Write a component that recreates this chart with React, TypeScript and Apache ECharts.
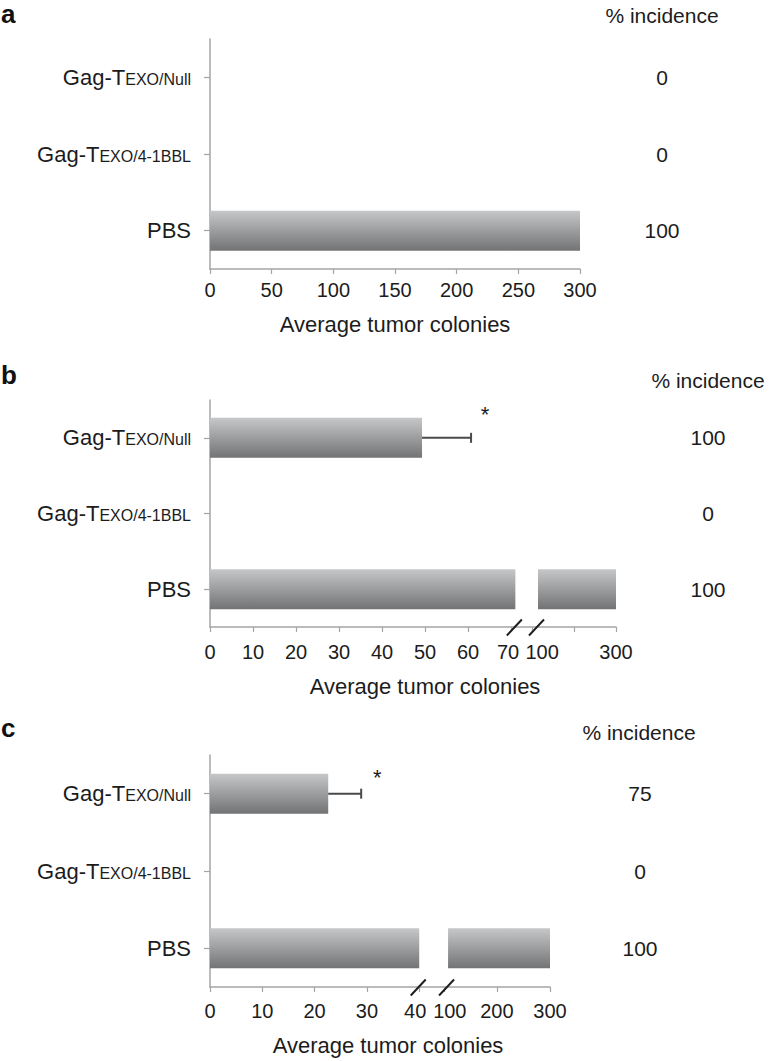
import React, { useEffect, useRef } from 'react';
import * as echarts from 'echarts';

// ---------- data ----------
const categories = ['Gag-TEXO/Null', 'Gag-TEXO/4-1BBL', 'PBS'];
const labelMain = ['Gag-T', 'Gag-T', 'PBS'];
const labelSub = ['EXO/Null', 'EXO/4-1BBL', ''];

// panel a
const coloniesA = [0, 0, 300];
const errorsA = [0, 0, 0];
const incidenceA = ['0', '0', '100'];
const tickValuesA = [0, 50, 100, 150, 200, 250, 300];
const tickLabelsA = [0, 50, 100, 150, 200, 250, 300];

// panel b
const coloniesB = [49.3, 0, 300];
const errorsB = [11.4, 0, 0];
const incidenceB = ['100', '0', '100'];
const tickValuesB = [0, 10, 20, 30, 40, 50, 60, 70, 100, 200, 300];
const tickLabelsB = [0, 10, 20, 30, 40, 50, 60, 70, 100, 300];
const breakB = [71, 114];

// panel c
const coloniesC = [22.6, 0, 300];
const errorsC = [6.3, 0, 0];
const incidenceC = ['75', '0', '100'];
const tickValuesC = [0, 10, 20, 30, 40, 100, 200, 300];
const tickLabelsC = [0, 10, 20, 30, 40, 100, 200, 300];
const breakC = [40, 108];

// ---------- styling / layout ----------
const FONT = '"Liberation Sans", Arial, Helvetica, sans-serif';
const TEXT = '#1c1c1c';
const AXIS = '#a5a5a5';

type ScaleCfg = { lowCut: number; upperMin: number; upperStart: number; upperPerUnit: number } | null;

const panels = [
  {
    letter: 'a', letterY: 1, headerX: 662, headerY: 15,
    grid: { left: 210, top: 39, width: 370, height: 230 },
    colonies: coloniesA, errors: errorsA, incidence: incidenceA,
    ticks: tickValuesA, labels: tickLabelsA, brk: null as number[] | null,
    scale: null as ScaleCfg, max: 300,
    labelMargin: 11, nameGap: 44, namePad: 0, incMargin: 82,
    starDx: 15, starDy: -24, lowLabel: -1, lowPad: 0, highPad: 0,
  },
  {
    letter: 'b', letterY: 362, headerX: 708, headerY: 380,
    grid: { left: 210, top: 400, width: 406, height: 227 },
    colonies: coloniesB, errors: errorsB, incidence: incidenceB,
    ticks: tickValuesB, labels: tickLabelsB, brk: breakB,
    scale: { lowCut: 71, upperMin: 100, upperStart: 74.9, upperPerUnit: 0.0975 } as ScaleCfg, max: 300,
    labelMargin: 15, nameGap: 48, namePad: 24, incMargin: 92,
    starDx: 14, starDy: -23, lowLabel: 70, lowPad: 6, highPad: 20,
  },
  {
    letter: 'c', letterY: 715, headerX: 639, headerY: 732,
    grid: { left: 210, top: 755, width: 340, height: 232 },
    colonies: coloniesC, errors: errorsC, incidence: incidenceC,
    ticks: tickValuesC, labels: tickLabelsC, brk: breakC,
    scale: { lowCut: 40, upperMin: 100, upperStart: 44.7, upperPerUnit: 0.1015 } as ScaleCfg, max: 300,
    labelMargin: 14, nameGap: 47, namePad: 16, incMargin: 90,
    starDx: 16, starDy: -16, lowLabel: 40, lowPad: 8, highPad: 12,
  },
];

function makeMap(s: ScaleCfg) {
  if (!s) return (v: number) => v;
  return (v: number) => (v <= s.lowCut ? v : s.upperStart + (v - s.upperMin) * s.upperPerUnit);
}

const barGradient = () =>
  new echarts.graphic.LinearGradient(0, 0, 0, 1, [
    { offset: 0, color: '#c6c7c9' },
    { offset: 1, color: '#727375' },
  ]);

function buildOption() {
  const grids: any[] = [];
  const xAxes: any[] = [];
  const yAxes: any[] = [];
  const series: any[] = [];
  const graphics: any[] = [];

  panels.forEach((p, i) => {
    const map = makeMap(p.scale);
    grids.push({ ...p.grid, containLabel: false, outerBoundsMode: 'none' });

    const labelPos = p.labels.map(map);
    const labelText = new Map<string, number>();
    p.labels.forEach((l, k) => labelText.set(labelPos[k].toFixed(4), l));

    xAxes.push({
      type: 'value',
      gridIndex: i,
      min: 0,
      max: map(p.max),
      splitLine: { show: false },
      axisLine: { show: true, lineStyle: { color: AXIS, width: 1.5 } },
      axisTick: { show: true, length: 5, lineStyle: { color: AXIS, width: 1.2 }, customValues: p.ticks.map(map) },
      axisLabel: {
        customValues: labelPos,
        margin: p.labelMargin,
        fontSize: 20,
        fontFamily: FONT,
        color: TEXT,
        formatter: (v: number) => {
          const l = labelText.get(v.toFixed(4));
          if (l === undefined) return '';
          if (p.scale && l === p.lowLabel) return `{lo|${l}}`;
          if (p.scale && l === p.scale.upperMin) return `{hi|${l}}`;
          return String(l);
        },
        rich: {
          lo: { fontSize: 20, fontFamily: FONT, color: TEXT, padding: [0, p.lowPad, 0, 0] },
          hi: { fontSize: 20, fontFamily: FONT, color: TEXT, padding: [0, 0, 0, p.highPad] },
        },
      },
      name: 'Average tumor colonies',
      nameLocation: 'middle',
      nameGap: p.nameGap,
      nameTextStyle: { fontSize: 22, fontFamily: FONT, color: TEXT, padding: [0, 0, 0, p.namePad] },
    });

    yAxes.push({
      type: 'category',
      gridIndex: i,
      data: categories,
      inverse: true,
      axisLine: { show: true, lineStyle: { color: AXIS, width: 1.5 } },
      axisTick: { show: true, alignWithLabel: true, length: 6, lineStyle: { color: AXIS, width: 1.2 } },
      axisLabel: {
        margin: 19,
        formatter: (_v: string, idx: number) =>
          labelSub[idx] ? `{m|${labelMain[idx]}}{s|${labelSub[idx]}}` : `{m|${labelMain[idx]}}`,
        rich: {
          m: { fontSize: 22, fontFamily: FONT, color: TEXT, verticalAlign: 'bottom' },
          s: { fontSize: 16, fontFamily: FONT, color: TEXT, verticalAlign: 'bottom', padding: [0, 0, 1, 0] },
        },
      },
      splitLine: { show: false },
    });
    yAxes.push({
      type: 'category',
      gridIndex: i,
      position: 'right',
      data: p.incidence,
      inverse: true,
      axisLine: { show: false },
      axisTick: { show: false },
      axisLabel: { margin: p.incMargin, align: 'center', fontSize: 21, fontFamily: FONT, color: TEXT },
      splitLine: { show: false },
    });

    const xIdx = i;
    const yIdx = 2 * i;
    const brk = p.brk;
    const stack = 'stack' + i;
    const seg1 = p.colonies.map((v) => (brk && v > brk[0] ? map(brk[0]) : map(v)));
    const gap = p.colonies.map((v) => (brk && v > brk[0] ? map(brk[1]) - map(brk[0]) : 0));
    const seg2 = p.colonies.map((v) => (brk && v > brk[0] ? map(v) - map(brk[1]) : 0));

    series.push({
      type: 'bar', xAxisIndex: xIdx, yAxisIndex: yIdx, stack, barWidth: 40,
      data: seg1, itemStyle: { color: barGradient() }, silent: true,
    });
    if (brk) {
      series.push({
        type: 'bar', xAxisIndex: xIdx, yAxisIndex: yIdx, stack, barWidth: 40,
        data: gap, itemStyle: { color: 'rgba(0,0,0,0)' }, silent: true,
      });
      series.push({
        type: 'bar', xAxisIndex: xIdx, yAxisIndex: yIdx, stack, barWidth: 40,
        data: seg2, itemStyle: { color: barGradient() }, silent: true,
      });
      // axis break marks
      series.push({
        type: 'custom', xAxisIndex: xIdx, yAxisIndex: yIdx, silent: true, z: 10,
        encode: { x: [0, 2], y: 1 },
        data: [[map(brk[0]), 0, map(brk[1])]],
        renderItem: (params: any, api: any) => {
          const cs = params.coordSys;
          const yb = cs.y + cs.height + 0.5;
          const xa = api.coord([api.value(0), 0])[0] - 1;
          const xb = api.coord([api.value(2), 0])[0] - 1.5;
          const mk = (xc: number) => ({
            type: 'line',
            shape: { x1: xc - 7.5, y1: yb + 8, x2: xc + 7.5, y2: yb - 8 },
            style: { stroke: '#1e1e1e', lineWidth: 2 },
          });
          return { type: 'group', children: [mk(xa), mk(xb)] };
        },
      });
    }

    const errData = p.colonies
      .map((v, k) => [map(v), k, map(v + p.errors[k])])
      .filter((_d, k) => p.errors[k] > 0);
    if (errData.length) {
      series.push({
        type: 'custom', xAxisIndex: xIdx, yAxisIndex: yIdx, silent: true, z: 10,
        encode: { x: [0, 2], y: 1 },
        data: errData,
        renderItem: (_params: any, api: any) => {
          const p0 = api.coord([api.value(0), api.value(1)]);
          const p1 = api.coord([api.value(2), api.value(1)]);
          return {
            type: 'group',
            children: [
              { type: 'line', shape: { x1: p0[0], y1: p0[1], x2: p1[0], y2: p1[1] }, style: { stroke: '#4a4a4a', lineWidth: 2 } },
              { type: 'line', shape: { x1: p1[0], y1: p1[1] - 5, x2: p1[0], y2: p1[1] + 5 }, style: { stroke: '#4a4a4a', lineWidth: 2 } },
              {
                type: 'text', x: p1[0] + p.starDx, y: p1[1] + p.starDy,
                style: { text: '*', fontSize: 22, fontFamily: FONT, fill: TEXT, align: 'center', verticalAlign: 'middle' },
              },
            ],
          };
        },
      });
    }

    graphics.push({
      type: 'text', x: 1, y: p.letterY,
      style: { text: p.letter, font: `bold 26px ${FONT}`, fill: '#111', align: 'left', verticalAlign: 'top' },
    });
    graphics.push({
      type: 'text', x: p.headerX, y: p.headerY,
      style: { text: '% incidence', fontSize: 21, fontFamily: FONT, fill: TEXT, align: 'center', verticalAlign: 'middle' },
    });
  });

  return {
    animation: false,
    backgroundColor: '#ffffff',
    grid: grids,
    xAxis: xAxes,
    yAxis: yAxes,
    series,
    graphic: graphics,
  };
}

export default function App() {
  const ref = useRef<HTMLDivElement>(null);
  useEffect(() => {
    if (!ref.current) return;
    const chart = echarts.init(ref.current, undefined, { renderer: 'svg' });
    chart.setOption(buildOption() as any);
    return () => chart.dispose();
  }, []);
  return (
    <div
      ref={ref}
      style={{ position: 'absolute', left: 0, top: 0, width: 769, height: 1061, background: '#fff' }}
    />
  );
}
